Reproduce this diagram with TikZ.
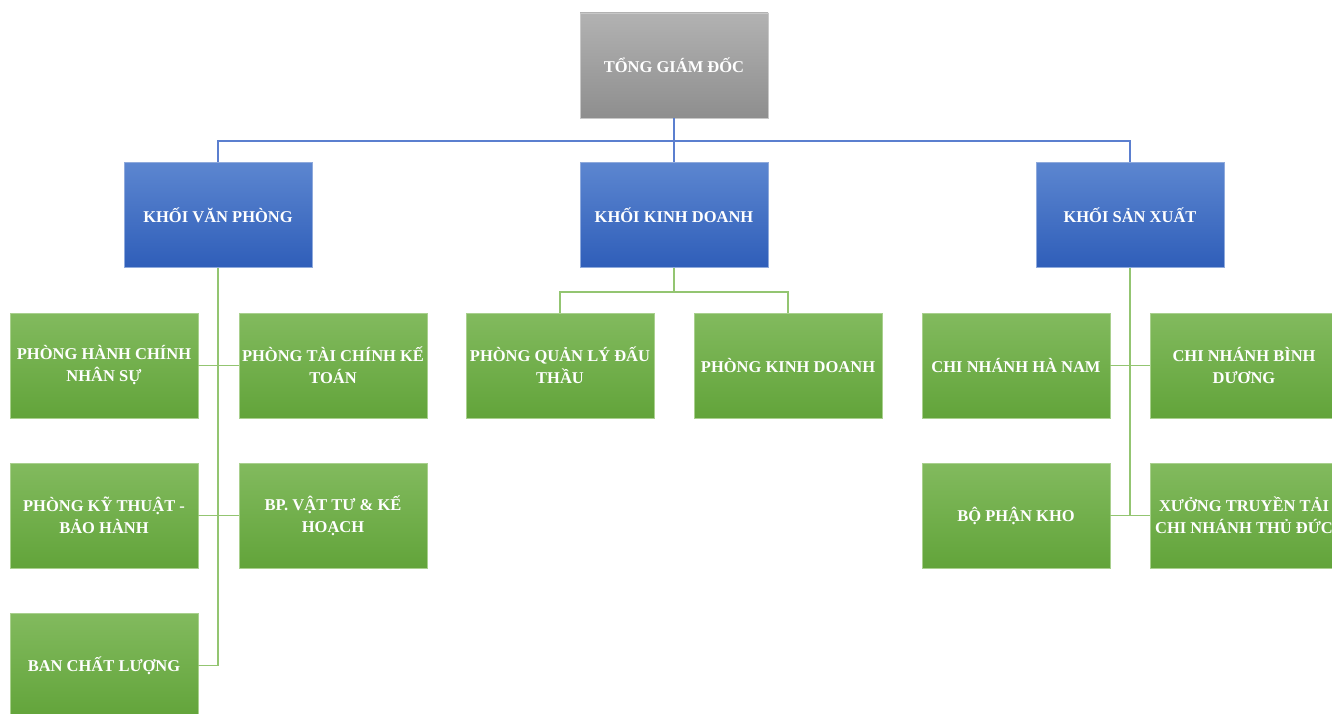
\documentclass[tikz,border=0pt]{standalone}
\usepackage{fontspec}
\setmainfont{Liberation Serif}
\begin{document}
\begin{tikzpicture}[x=1pt,y=-1pt,
  box/.style={minimum width=188pt,minimum height=105pt,inner sep=2pt,align=center,
    text=white,font=\fontsize{16.5}{22}\selectfont\bfseries},
  gbox/.style={box,top color=gtop,bottom color=gbot,draw=gline,line width=0.8pt},
  bbox/.style={box,top color=btop,bottom color=bbot,draw=bline,line width=0.8pt},
  graybox/.style={box,top color=ktop,bottom color=kbot,draw=kline,line width=0.8pt},
  blink/.style={draw=blc,line width=1.4pt},
  glink/.style={draw=glc,line width=1.4pt}]
\definecolor{gtop}{HTML}{82BA5E}
\definecolor{gbot}{HTML}{62A43A}
\definecolor{gline}{HTML}{A9D08E}
\definecolor{btop}{HTML}{5C86D0}
\definecolor{bbot}{HTML}{2F5EB9}
\definecolor{bline}{HTML}{8FAADC}
\definecolor{ktop}{HTML}{B2B2B2}
\definecolor{kbot}{HTML}{8E8E8E}
\definecolor{kline}{HTML}{C8C8C8}
\definecolor{blc}{HTML}{5B7FCF}
\definecolor{glc}{HTML}{93C571}
\useasboundingbox (0,0) rectangle (1332,714);
\clip (0,0) rectangle (1332,714);
\fill[white] (0,0) rectangle (1332,714);
% top
\node[graybox] (top) at (674,65.5) {TỔNG GIÁM ĐỐC};
% level 1
\node[bbox] (kvp) at (218,215) {KHỐI VĂN PHÒNG};
\node[bbox] (kkd) at (674,215) {KHỐI KINH DOANH};
\node[bbox] (ksx) at (1130,215) {KHỐI SẢN XUẤT};
% row 1
\node[gbox] (hc) at (104,365.5) {PHÒNG HÀNH CHÍNH\\NHÂN SỰ};
\node[gbox] (tc) at (333,365.5) {PHÒNG TÀI CHÍNH KẾ\\TOÁN};
\node[gbox] (qldt) at (560,365.5) {PHÒNG QUẢN LÝ ĐẤU\\THẦU};
\node[gbox] (pkd) at (788,365.5) {PHÒNG KINH DOANH};
\node[gbox] (hn) at (1016,365.5) {CHI NHÁNH HÀ NAM};
\node[gbox] (bd) at (1244,365.5) {CHI NHÁNH BÌNH\\DƯƠNG};
% row 2
\node[gbox] (kt) at (104,515.5) {PHÒNG KỸ THUẬT -\\BẢO HÀNH};
\node[gbox] (vt) at (333,515.5) {BP. VẬT TƯ \& KẾ\\HOẠCH};
\node[gbox] (kho) at (1016,515.5) {BỘ PHẬN KHO};
\node[gbox] (xt) at (1244,515.5) {XƯỞNG TRUYỀN TẢI\\CHI NHÁNH THỦ ĐỨC};
% row 3
\node[gbox] (ban) at (104,665.5) {BAN CHẤT LƯỢNG};
% blue connectors
\coordinate (b1) at (674,141);
\draw[blink] (top.south) -- (b1);
\draw[blink] (kvp.north) |- (b1) -| (ksx.north);
\draw[blink] (b1) -- (kkd.north);
% green connectors - van phong
\coordinate (vp3) at (218,665.5);
\draw[glink] (kvp.south) -- (vp3) -- (ban.east);
\draw[glink] (hc.east) -- (tc.west);
\draw[glink] (kt.east) -- (vt.west);
% kinh doanh
\coordinate (kd1) at (674,292);
\draw[glink] (qldt.north) |- (kd1) -| (pkd.north);
\draw[glink] (kkd.south) -- (kd1);
% san xuat
\coordinate (sx2) at (1130,515.5);
\draw[glink] (ksx.south) -- (sx2);
\draw[glink] (hn.east) -- (bd.west);
\draw[glink] (kho.east) -- (xt.west);
\end{tikzpicture}
\end{document}
